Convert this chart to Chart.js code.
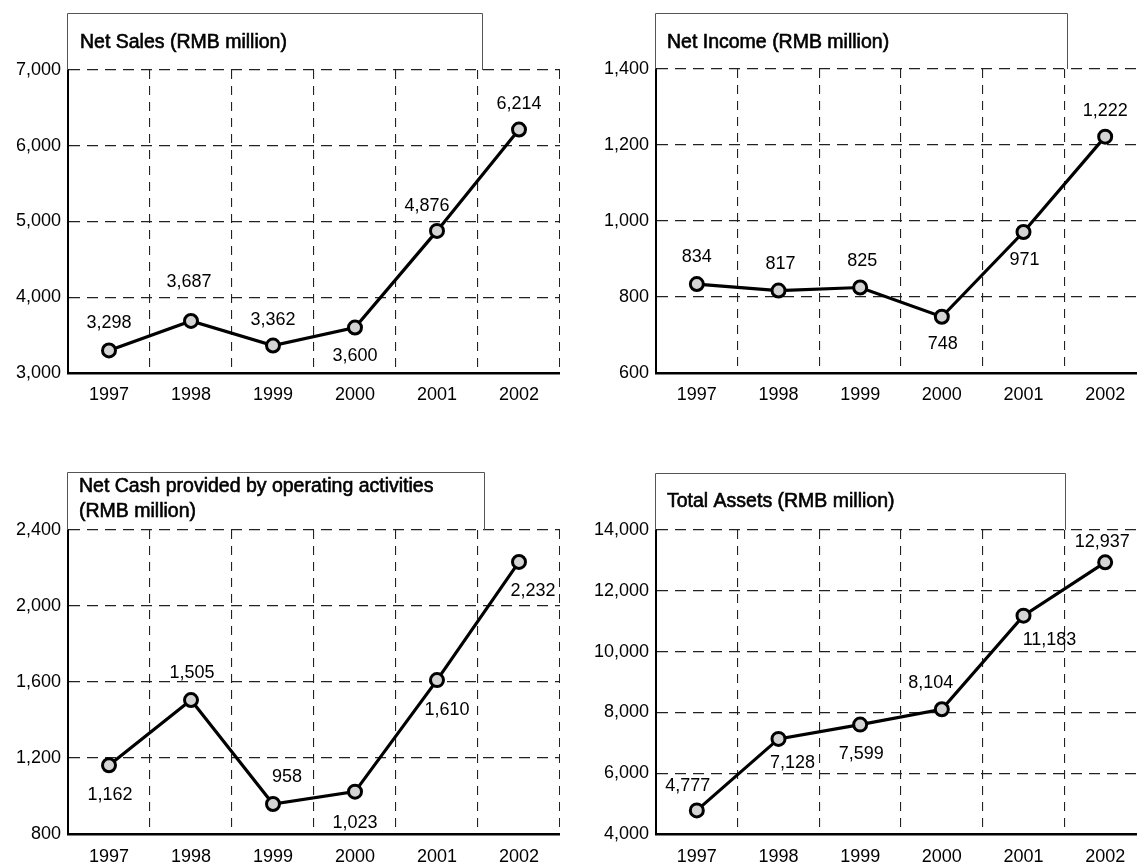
<!DOCTYPE html>
<html>
<head>
<meta charset="utf-8">
<script src="https://cdn.jsdelivr.net/npm/chart.js@4.4.1/dist/chart.umd.min.js"></script>
<style>
html,body{margin:0;padding:0;background:#fff;overflow:hidden;}
body{width:1137px;height:868px;position:relative;}
canvas{position:absolute;display:block;}
</style>
</head>
<body>
<canvas id="c1" width="560" height="440" style="left:0;top:0"></canvas>
<canvas id="c2" width="586" height="440" style="left:560px;top:0"></canvas>
<canvas id="c3" width="560" height="428" style="left:0;top:440px"></canvas>
<canvas id="c4" width="586" height="428" style="left:560px;top:440px"></canvas>
<script>
// ---- data ----
const years = ['1997', '1998', '1999', '2000', '2001', '2002'];

const netSalesTitle = ['Net Sales (RMB million)'];
const netSales = [3298, 3687, 3362, 3600, 4876, 6214];
const netSalesTicks = [3000, 4000, 5000, 6000, 7000];

const netIncomeTitle = ['Net Income (RMB million)'];
const netIncome = [834, 817, 825, 748, 971, 1222];
const netIncomeTicks = [600, 800, 1000, 1200, 1400];

const netCashTitle = ['Net Cash provided by operating activities', '(RMB million)'];
const netCash = [1162, 1505, 958, 1023, 1610, 2232];
const netCashTicks = [800, 1200, 1600, 2000, 2400];

const totalAssetsTitle = ['Total Assets (RMB million)'];
const totalAssets = [4777, 7128, 7599, 8104, 11183, 12937];
const totalAssetsTicks = [4000, 6000, 8000, 10000, 12000, 14000];

// ---- label placement (pixel offsets from each point) ----
const netSalesLabelPos = [[0, -27], [-2, -39], [0, -26], [0, 28], [-10, -25], [0, -26]];
const netIncomeLabelPos = [[0, -27], [2, -27], [2, -26], [1, 27], [1, 28], [0, -26]];
const netCashLabelPos = [[1, 30], [1, -27], [14, -27], [0, 31], [10, 30], [14, 29]];
const totalAssetsLabelPos = [[-9, -24], [14, 24], [1, 29], [-11, -26], [26, 24], [-3, -20]];

const FONT = '"Liberation Sans", Arial, sans-serif';
const fmt = v => Number(v).toLocaleString('en-US');

function makeChart(id, title, values, ticks, labelPos, L) {
  const yMin = ticks[0], yMax = ticks[ticks.length - 1];

  const boxTitle = {
    id: 'boxTitle_' + id,
    afterDraw(chart) {
      const ctx = chart.ctx, a = chart.chartArea;
      const top = a.top + L.boxTop + 0.5;
      ctx.save();
      ctx.strokeStyle = '#555';
      ctx.lineWidth = 1;
      ctx.beginPath();
      ctx.moveTo(a.left - 0.5, a.top);
      ctx.lineTo(a.left - 0.5, top);
      ctx.lineTo(L.boxRight + 0.5, top);
      ctx.lineTo(L.boxRight + 0.5, a.top);
      ctx.stroke();
      ctx.fillStyle = '#000';
      ctx.strokeStyle = '#000';
      ctx.lineWidth = 0.6;
      ctx.font = '19.5px ' + FONT;
      ctx.textAlign = 'left';
      ctx.textBaseline = 'middle';
      title.forEach((t, i) => {
        ctx.fillText(t, a.left + L.textX, a.top + L.textY[i]);
        ctx.strokeText(t, a.left + L.textX, a.top + L.textY[i]);
      });
      ctx.restore();
    }
  };

  const valueLabels = {
    id: 'valueLabels_' + id,
    afterDatasetsDraw(chart) {
      const ctx = chart.ctx;
      const meta = chart.getDatasetMeta(0);
      ctx.save();
      ctx.fillStyle = '#000';
      ctx.font = '18px ' + FONT;
      ctx.textAlign = 'center';
      ctx.textBaseline = 'middle';
      meta.data.forEach((pt, i) => {
        const p = labelPos[i];
        ctx.fillText(fmt(values[i]), pt.x + p[0], pt.y + p[1]);
      });
      ctx.restore();
    }
  };

  return new Chart(document.getElementById(id), {
    type: 'line',
    data: {
      labels: years,
      datasets: [{
        data: values,
        borderColor: '#000',
        borderWidth: 3.2,
        pointRadius: 6.5,
        pointBorderWidth: 3,
        pointBorderColor: '#000',
        pointBackgroundColor: '#d4d4d4',
        tension: 0,
        clip: false
      }]
    },
    options: {
      responsive: false,
      animation: false,
      layout: { autoPadding: false, padding: { top: L.top, left: 0, right: 0, bottom: 0 } },
      plugins: {
        legend: { display: false },
        tooltip: { enabled: false },
        title: { display: false }
      },
      scales: {
        x: {
          type: 'category',
          offset: true,
          afterFit: s => { s.height = L.xH; s.paddingLeft = 0; s.paddingRight = 0; },
          grid: {
            offset: true,
            drawTicks: false,
            color: '#222',
            lineWidth: 1.1
          },
          border: { display: true, color: '#000', width: 2.6, dash: [9, 7] },
          ticks: {
            padding: L.xPad,
            color: '#000',
            font: { family: FONT, size: 18 },
            maxRotation: 0,
            autoSkip: false
          }
        },
        y: {
          type: 'linear',
          min: yMin,
          max: yMax,
          afterFit: s => { s.width = L.left; },
          afterBuildTicks: s => { s.ticks = ticks.map(v => ({ value: v })); },
          grid: {
            drawTicks: false,
            color: '#222',
            lineWidth: 1.3
          },
          border: { display: true, color: '#000', width: 2, dash: [11, 7] },
          ticks: {
            padding: 7,
            color: '#000',
            font: { family: FONT, size: 18 },
            callback: v => fmt(v)
          }
        }
      }
    },
    plugins: [boxTitle, valueLabels]
  });
}

makeChart('c1', netSalesTitle, netSales, netSalesTicks, netSalesLabelPos,
  { top: 70, left: 68, xH: 67, xPad: 11, boxTop: -57, boxRight: 482, textX: 12, textY: [-27] });
makeChart('c2', netIncomeTitle, netIncome, netIncomeTicks, netIncomeLabelPos,
  { top: 69, left: 96, xH: 67, xPad: 11, boxTop: -56, boxRight: 507, textX: 11, textY: [-26] });
makeChart('c3', netCashTitle, netCash, netCashTicks, netCashLabelPos,
  { top: 90, left: 68, xH: 34, xPad: 12, boxTop: -58, boxRight: 484, textX: 11, textY: [-43, -18] });
makeChart('c4', totalAssetsTitle, totalAssets, totalAssetsTicks, totalAssetsLabelPos,
  { top: 90, left: 96, xH: 34, xPad: 12, boxTop: -57, boxRight: 505, textX: 11, textY: [-28] });
</script>
</body>
</html>
